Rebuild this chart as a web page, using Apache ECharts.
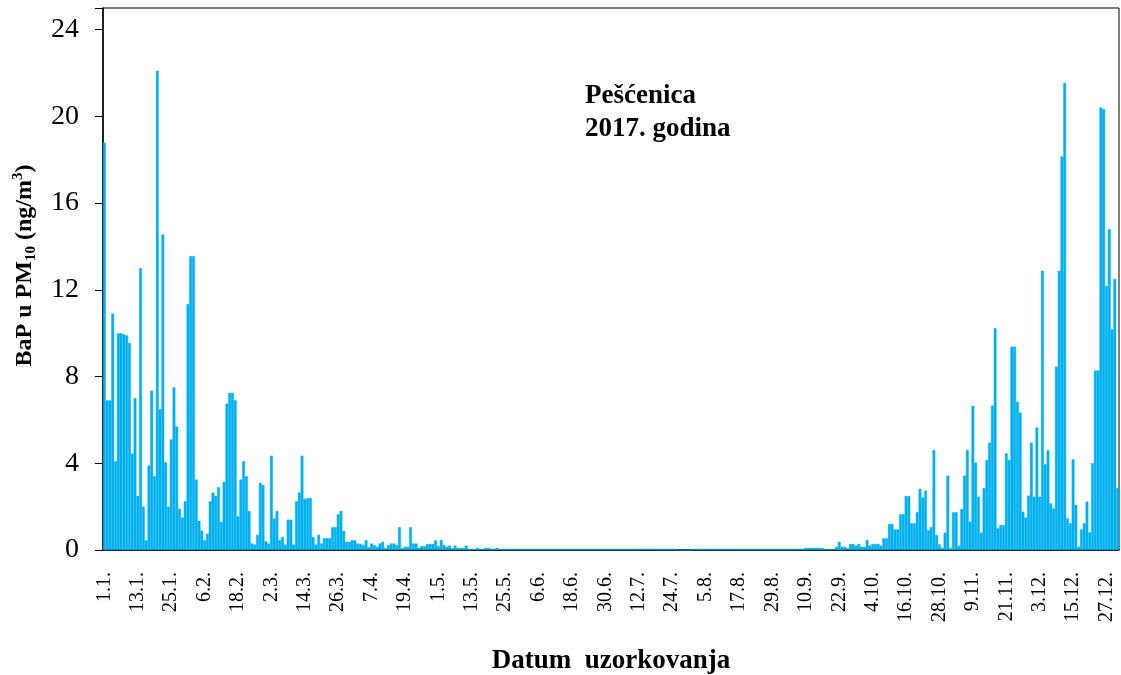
<!DOCTYPE html>
<html>
<head>
<meta charset="utf-8">
<script src="https://cdn.jsdelivr.net/npm/echarts@6/dist/echarts.min.js"></script>
<style>
html,body{margin:0;padding:0;background:#fff;}
#chart{width:1121px;height:675px;}
</style>
</head>
<body>
<div id="chart"></div>
<script>
// BaP u PM10 (ng/m3), Pešćenica 2017 — daily values per month
const jan = [18.8, 6.9, 6.9, 10.9, 4.1, 10.0, 10.0, 9.95, 9.9, 9.55, 4.45, 7.0, 2.5, 13.0, 2.0, 0.45, 3.9, 7.35, 3.4, 22.1, 6.5, 14.55, 4.05, 2.0, 5.1, 7.5, 5.7, 1.9, 1.5, 2.25, 11.35];
const feb = [13.55, 13.55, 3.25, 1.35, 0.9, 0.45, 0.75, 2.25, 2.65, 2.5, 2.9, 1.3, 3.15, 6.75, 7.25, 7.25, 6.9, 1.55, 3.25, 4.1, 3.4, 1.8, 0.3, 0.25, 0.7, 3.1, 3.0, 0.4];
const mar = [0.3, 4.35, 1.45, 1.8, 0.45, 0.6, 0.25, 1.4, 1.4, 0.25, 2.25, 2.65, 4.35, 2.35, 2.4, 2.4, 0.6, 0.25, 0.7, 0.3, 0.54, 0.54, 0.54, 1.05, 1.05, 1.65, 1.8, 0.88, 0.38, 0.38, 0.45];
const apr = [0.45, 0.3, 0.28, 0.23, 0.45, 0.12, 0.3, 0.23, 0.15, 0.3, 0.38, 0.08, 0.23, 0.3, 0.3, 0.23, 1.05, 0.08, 0.15, 0.15, 1.05, 0.3, 0.3, 0.1, 0.18, 0.18, 0.28, 0.28, 0.28, 0.45];
const may = [0.18, 0.46, 0.23, 0.15, 0.2, 0.08, 0.2, 0.1, 0.1, 0.1, 0.2, 0.05, 0.05, 0.05, 0.1, 0.05, 0.05, 0.1, 0.1, 0.05, 0.05, 0.1, 0.05, 0.06, 0.06, 0.06, 0.06, 0.06, 0.06, 0.06, 0.06];
const jun = [0.06, 0.06, 0.06, 0.06, 0.06, 0.06, 0.06, 0.06, 0.06, 0.06, 0.06, 0.06, 0.06, 0.06, 0.06, 0.06, 0.06, 0.06, 0.06, 0.06, 0.06, 0.06, 0.06, 0.06, 0.06, 0.06, 0.06, 0.06, 0.06, 0.06];
const jul = [0.06, 0.06, 0.06, 0.06, 0.06, 0.06, 0.06, 0.06, 0.06, 0.06, 0.06, 0.06, 0.06, 0.06, 0.06, 0.06, 0.06, 0.06, 0.06, 0.06, 0.06, 0.06, 0.06, 0.06, 0.06, 0, 0, 0, 0, 0, 0];
const aug = [0.06, 0.06, 0.06, 0.06, 0.06, 0.06, 0.06, 0.06, 0.06, 0.06, 0.06, 0.06, 0.06, 0.06, 0.06, 0.06, 0.06, 0.06, 0.06, 0.06, 0.06, 0.06, 0.06, 0.06, 0.06, 0.06, 0.06, 0.06, 0.06, 0.06, 0.06];
const sep = [0.06, 0.06, 0.06, 0.06, 0.06, 0.06, 0.06, 0.06, 0.06, 0.1, 0.1, 0.1, 0.1, 0.1, 0.1, 0.1, 0.04, 0.04, 0.04, 0.04, 0.15, 0.38, 0.15, 0.15, 0.08, 0.28, 0.28, 0.2, 0.28, 0.15];
const oct = [0.15, 0.46, 0.2, 0.28, 0.28, 0.28, 0.2, 0.54, 0.54, 1.2, 1.2, 0.95, 0.95, 1.65, 1.65, 2.49, 2.49, 1.23, 1.23, 1.74, 2.82, 2.42, 2.74, 0.92, 1.05, 4.61, 0.69, 0.26, 0.1, 0.8, 3.43];
const nov = [0.1, 1.74, 1.74, 0.2, 1.89, 3.43, 4.61, 1.31, 6.65, 4.03, 2.46, 0.8, 2.85, 4.15, 4.95, 6.66, 10.23, 1.0, 1.15, 1.15, 4.46, 4.15, 9.38, 9.38, 6.84, 6.34, 1.77, 1.5, 2.51, 4.95];
const dec = [2.46, 5.65, 2.46, 12.88, 3.95, 4.61, 2.15, 1.92, 8.46, 12.88, 18.15, 21.54, 1.46, 1.23, 4.18, 2.08, 0.15, 0.95, 1.23, 2.23, 0.82, 4.0, 8.28, 8.28, 20.41, 20.34, 12.18, 14.8, 10.18, 12.5, 2.85];

const months = [jan, feb, mar, apr, may, jun, jul, aug, sep, oct, nov, dec];
const yTicks = [0, 4, 8, 12, 16, 20, 24];

// categories: day.month. for every day of 2017
const categories = [];
months.forEach((m, mi) => m.forEach((v, di) => categories.push((di + 1) + '.' + (mi + 1) + '.')));
const values = [].concat(...months);

const chart = echarts.init(document.getElementById('chart'), null, {renderer: 'canvas'});
const serif = 'Liberation Serif, Times New Roman, serif';
chart.setOption({
  animation: false,
  backgroundColor: '#fff',
  title: {
    text: 'Pešćenica\n2017. godina',
    left: 580, top: 75,
    textStyle: {fontFamily: serif, fontWeight: 'bold', fontSize: 27, lineHeight: 33, color: '#000'}
  },
  grid: {left: 103, right: 2, top: 8, bottom: 125, outerBoundsMode: 'none', containLabel: false,
         show: true, borderColor: '#000', borderWidth: 1, backgroundColor: 'transparent'},
  xAxis: {
    type: 'category',
    data: categories,
    name: 'Datum  uzorkovanja',
    nameLocation: 'middle',
    nameGap: 98,
    nameTextStyle: {fontFamily: serif, fontWeight: 'bold', fontSize: 27, color: '#000'},
    axisLine: {lineStyle: {color: '#000', width: 1.5}},
    axisTick: {interval: 0, length: 3, lineStyle: {color: '#000'}},
    axisLabel: {interval: 11, rotate: 90, margin: 22, fontFamily: serif, fontSize: 20, color: '#000'}
  },
  yAxis: {
    type: 'value',
    min: 0, max: 25, interval: 4,
    name: '{b|BaP u PM}{s|10}{b| (ng/m}{p|3}{b|)}',
    nameLocation: 'middle',
    nameGap: 64,
    nameRotate: 90,
    nameTextStyle: {
      padding: [0, 0, 0, 27],
      rich: {
        b: {fontFamily: serif, fontWeight: 'bold', fontSize: 24, color: '#000', lineHeight: 28},
        s: {fontFamily: serif, fontWeight: 'bold', fontSize: 15, color: '#000', verticalAlign: 'bottom', lineHeight: 20},
        p: {fontFamily: serif, fontWeight: 'bold', fontSize: 15, color: '#000', verticalAlign: 'top', lineHeight: 18}
      }
    },
    splitLine: {show: false},
    axisLine: {show: true, lineStyle: {color: '#000', width: 1.5}},
    axisTick: {show: true, length: 8, lineStyle: {color: '#000'}},
    axisLabel: {
      margin: 24, fontFamily: serif, fontSize: 28, color: '#000',
      formatter: v => (yTicks.indexOf(v) >= 0 ? String(v) : '')
    }
  },
  series: [{
    type: 'bar',
    data: values,
    barCategoryGap: '0%',
    itemStyle: {color: '#00B0F0', borderColor: '#00B0F0', borderWidth: 0.5}
  }]
});
</script>
</body>
</html>
